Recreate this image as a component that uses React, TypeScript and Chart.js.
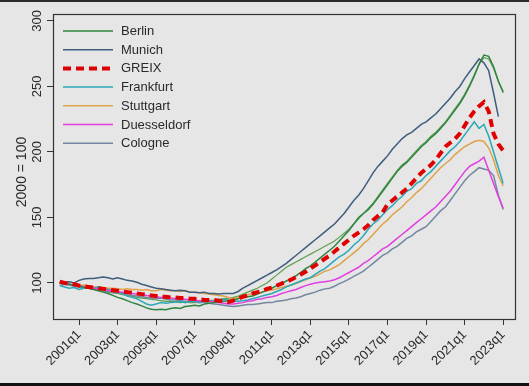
import React, { useEffect, useRef } from "react";
import { Chart, registerables } from "chart.js";
Chart.register(...registerables);

// quarters 2000q1 .. 2023q1
const quarters: string[] = [];
for (let y = 2000; y <= 2023; y++) for (let q = 1; q <= 4; q++) quarters.push(`${y}q${q}`);
quarters.length = 93;

const xTickLabels = ["2001q1", "2003q1", "2005q1", "2007q1", "2009q1", "2011q1", "2013q1", "2015q1", "2017q1", "2019q1", "2021q1", "2023q1"];
const yTickValues = [100, 150, 200, 250, 300];
const yTitle = "2000 = 100";

const berlin = [
  100, 99.5, 99, 98, 97.5, 97, 96, 95, 94, 93, 92, 90.5, 89, 88, 86.5, 85,
  84, 82.5, 81, 80, 79.5, 80, 79.5, 80.5, 81, 80.5, 82, 82.5, 83, 82.5, 84, 84.5,
  85, 85.5, 86, 86.5, 87, 88, 89, 89.5, 90, 91.5, 93, 94.5, 96, 98, 99.5, 101.5,
  103, 105.5, 108, 111, 113, 116, 119, 122, 125, 128, 132, 136, 140, 145, 150, 153,
  156, 160, 165, 170, 175, 180, 185, 189, 192, 196, 200, 204, 207, 211, 214, 218,
  222, 227, 232, 237, 243, 250, 258, 267, 274, 273, 265, 254, 246,
];
const munich = [
  100, 100.5, 101, 100, 102, 103, 103.5, 103.5, 104, 104.5, 104, 103, 104, 103, 102, 101.5,
  100.5, 99, 98, 97, 96, 95.5, 95, 94.5, 94, 94.5, 94, 93, 93, 92.5, 93, 92,
  92, 91.5, 92, 92, 92, 93.5, 96, 98, 100, 102, 104, 106, 108, 110, 112.5, 115,
  118, 121, 124, 127, 130, 133, 136, 139, 142, 145, 149, 153, 158, 163, 167, 172,
  178, 184, 189, 193, 197, 202, 206, 210, 213, 215, 218, 221, 223, 226, 229, 233,
  237, 241, 246, 250, 256, 261, 266, 271, 268, 262, 245, 227, null,
];
const greix = [
  101, 100, 99.5, 99, 98, 97.5, 97, 96.5, 96, 95.5, 95, 94.5, 94, 93.5, 93, 92.5,
  92, 91.5, 91, 90.5, 90, 89.5, 89.5, 89, 89, 88.5, 88.5, 88, 88, 87.5, 87, 87,
  87, 86.5, 86, 85.5, 86.5, 88, 89.5, 90.5, 92, 93, 94, 95.5, 96.5, 98, 99.5, 101,
  102.5, 104.5, 106.5, 108.5, 111, 113.5, 116, 118.5, 121, 124, 127, 130, 133, 136, 138.5, 141,
  144, 148, 151, 154, 160, 163, 166, 169, 172, 176, 180, 184, 187, 190, 194, 199,
  204, 207, 210, 214, 220, 226, 231, 235, 238, 231, 214, 206, 201,
];
const frankfurt = [
  98, 97, 96, 96.5, 95, 96, 97, 96, 97, 96, 95, 94, 93, 92, 90, 89,
  88, 86, 84, 83, 84, 85, 84.5, 85, 85.5, 86, 85, 86, 86, 85.5, 86, 86.5,
  86, 87, 87.5, 87, 86.5, 86, 86.5, 87, 88, 89, 90, 91, 92, 93.5, 95, 97,
  98.5, 100, 101.5, 103, 104, 106.5, 109, 111, 114, 117, 120, 122, 125, 129, 132, 136,
  141, 145, 148, 152, 156, 159, 163, 166, 170, 172, 176, 178, 182, 185, 189, 193,
  197, 201, 204, 208, 213, 218, 223, 218, 221, 212, 200, 188, 176,
];
const stuttgart = [
  100, 99.5, 99, 98.5, 98, 98.5, 97.5, 97, 97, 96.5, 96, 96, 95.5, 95, 95.5, 95,
  95, 94.5, 95, 94, 94, 95, 94.5, 94, 94, 93.5, 94, 93, 93, 92.5, 92, 91.5,
  91, 90.5, 90, 89, 88, 89, 90, 91, 92, 92.5, 93, 94, 94.5, 95.5, 96.5, 97.5,
  98.5, 99.5, 101, 102.5, 104, 105, 107, 109, 110, 112, 114, 117, 120, 123, 126, 130,
  133, 137, 141, 145, 148, 152, 155, 158, 162, 165, 169, 172, 176, 180, 184, 188,
  191, 194, 198, 201, 204, 206, 208, 209, 208, 203, 194, 182, 174,
];
const duesseldorf = [
  101, 100.5, 99, 98.5, 98, 97, 96.5, 96, 95.5, 95, 94.5, 94, 93.5, 93, 92.5, 92,
  91.5, 91, 90.5, 90, 89.5, 89, 89, 88.5, 88, 88, 87.5, 87, 87, 86.5, 86, 86,
  85.5, 85, 84.5, 84, 84, 84.5, 85, 86, 86.5, 87.5, 88, 89, 89.5, 90.5, 92, 93,
  94, 95, 96.5, 98, 99, 100, 100.5, 101, 101.5, 102.5, 104, 106, 108, 110, 112, 115,
  117, 120, 123, 126, 128, 131, 134, 137, 140, 143, 146, 149, 152, 155, 158, 162,
  166, 170, 175, 180, 185, 189, 191, 193, 196, 186, 176, 166, 157,
];
const cologne = [
  98, 99, 98.5, 97.5, 97, 96.5, 96, 95.5, 95, 94, 93.5, 93, 92.5, 92, 91, 90.5,
  90, 89.5, 89, 88.5, 88, 88.5, 87.5, 87, 87, 86.5, 86, 86, 85.5, 85, 85.5, 84.5,
  84, 83.5, 83, 82.5, 82, 82.5, 83, 83.5, 83.5, 84, 84.5, 85, 85, 86, 86.5, 87,
  88, 88.5, 89.5, 91, 92, 93, 94.5, 95.5, 96, 97.5, 99.5, 101, 103, 105, 107, 109,
  112, 115, 118, 121, 123, 126, 128, 131, 134, 136, 139, 141, 143, 147, 151, 155,
  158, 163, 168, 173, 178, 182, 185, 188, 187, 186, 182, 167, 156,
];
const hamburg = [
  100, 99, 98.5, 98, 97, 96.5, 96, 95, 94.5, 94, 93, 92.5, 92, 91, 90.5, 90,
  89, 88.5, 88, 87.5, 87, 86.5, 86, 86, 85.5, 85, 85.5, 85, 85, 85.5, 86, 86.5,
  87, 87.5, 88, 88.5, 89, 90, 91.5, 93, 94.5, 96, 98, 100, 103, 106, 109, 112,
  114, 116, 118, 120, 122, 124, 126, 128, 130, 132, 135, 138, 141, 145, 149, 153,
  157, 161, 166, 171, 176, 181, 186, 190, 193, 197, 201, 205, 208, 212, 215, 219,
  223, 228, 233, 238, 244, 251, 259, 267, 272, 271, 264, 254, 245,
];

const legendNames = ["Berlin", "Munich", "GREIX", "Frankfurt", "Stuttgart", "Duesseldorf", "Cologne"];

const COLORS: Record<string, string> = {
  Berlin: "#2e8540",
  Munich: "#3f5d7d",
  GREIX: "#e00000",
  Frankfurt: "#2aa8b6",
  Stuttgart: "#e0a24a",
  Duesseldorf: "#e23ee2",
  Cologne: "#7587a0",
  Hamburg: "#5f9f50",
};

const FONT = "'Liberation Sans', Arial, sans-serif";
const TEXT = "#2a2a2a";

export default function App() {
  const ref = useRef<HTMLCanvasElement | null>(null);
  useEffect(() => {
    document.body.style.margin = "0";
    document.body.style.background = "#e6e6e6";
    const canvas = ref.current!;
    const pts = (arr: (number | null)[]) => arr.map((v, i) => ({ x: i, y: v }));
    const line = (label: string, data: (number | null)[], order: number) => ({
      label,
      data: pts(data),
      borderColor: COLORS[label],
      backgroundColor: COLORS[label],
      borderWidth: 1.5,
      pointRadius: 0,
      tension: 0,
      order,
    });
    const datasets: any[] = [
      { ...line("Hamburg", hamburg, 8), borderWidth: 1.2 },
      line("Cologne", cologne, 7),
      line("Stuttgart", stuttgart, 6),
      line("Frankfurt", frankfurt, 5),
      line("Duesseldorf", duesseldorf, 4),
      line("Munich", munich, 3),
      line("Berlin", berlin, 2),
      { ...line("GREIX", greix, 0), borderWidth: 4, borderDash: [8, 5] },
    ];

    const framePlugin = {
      id: "frame",
      beforeDraw(chart: any) {
        const c = chart.ctx;
        c.save();
        c.fillStyle = "#e6e6e6";
        c.fillRect(0, 0, chart.width, chart.height);
        c.fillStyle = "#2b2b2b";
        c.fillRect(0, 0, chart.width, 2);
        c.fillStyle = "#111";
        c.fillRect(0, 383, chart.width, 3);
        c.restore();
      },
      afterDraw(chart: any) {
        const c = chart.ctx;
        const a = chart.chartArea;
        c.save();
        c.strokeStyle = "#333";
        c.lineWidth = 1.2;
        c.strokeRect(Math.round(a.left) + 0.5, Math.round(a.top) + 0.5, Math.round(a.right - a.left), Math.round(a.bottom - a.top));
        // y tick labels (rotated)
        c.fillStyle = TEXT;
        c.font = `13px ${FONT}`;
        c.textAlign = "center";
        c.textBaseline = "middle";
        const ys = chart.scales.y;
        for (const v of yTickValues) {
          const py = ys.getPixelForValue(v);
          c.save();
          c.translate(37, py);
          c.rotate(-Math.PI / 2);
          c.fillText(String(v), 0, 0);
          c.restore();
        }
        // y title
        c.save();
        c.font = `14px ${FONT}`;
        c.translate(22, 172);
        c.rotate(-Math.PI / 2);
        c.fillText(yTitle, 0, 0);
        c.restore();
        // legend
        c.font = `13px ${FONT}`;
        c.textAlign = "left";
        legendNames.forEach((name, i) => {
          const y = 31 + i * 18.7;
          c.beginPath();
          c.strokeStyle = COLORS[name];
          if (name === "GREIX") {
            c.lineWidth = 4;
            c.setLineDash([8, 5]);
          } else {
            c.lineWidth = 1.5;
            c.setLineDash([]);
          }
          c.moveTo(63, y);
          c.lineTo(113, y);
          c.stroke();
          c.setLineDash([]);
          c.fillStyle = TEXT;
          c.fillText(name, 121, y + 0.5);
        });
        c.restore();
      },
    };

    const chart = new Chart(canvas, {
      type: "line",
      data: { datasets },
      options: {
        animation: false,
        responsive: false,
        layout: { padding: { top: 14, right: 14, left: 0, bottom: 0 } },
        plugins: { legend: { display: false }, tooltip: { enabled: false } },
        scales: {
          x: {
            type: "linear",
            min: -1.4,
            max: 94.45,
            afterBuildTicks: (s: any) => {
              s.ticks = xTickLabels.map((l) => ({ value: quarters.indexOf(l) }));
            },
            afterFit: (s: any) => {
              s.height = 67;
            },
            grid: { drawOnChartArea: false, drawTicks: true, tickLength: 6, color: "#333", lineWidth: 1 },
            border: { display: false },
            ticks: {
              autoSkip: false,
              maxRotation: 45,
              minRotation: 45,
              padding: 2,
              color: TEXT,
              font: { family: FONT, size: 13 },
              callback: (v: any) => quarters[Math.round(Number(v))],
            },
          },
          y: {
            type: "linear",
            min: 72.5,
            max: 305.3,
            afterBuildTicks: (s: any) => {
              s.ticks = yTickValues.map((v) => ({ value: v }));
            },
            afterFit: (s: any) => {
              s.width = 53;
            },
            grid: { drawOnChartArea: false, drawTicks: true, tickLength: 6, color: "#333", lineWidth: 1 },
            border: { display: false },
            ticks: { display: false },
          },
        },
      },
      plugins: [framePlugin],
    } as any);
    return () => chart.destroy();
  }, []);
  return (
    <div style={{ width: 529, height: 386 }}>
      <canvas ref={ref} width={529} height={386} style={{ display: "block" }} />
    </div>
  );
}
